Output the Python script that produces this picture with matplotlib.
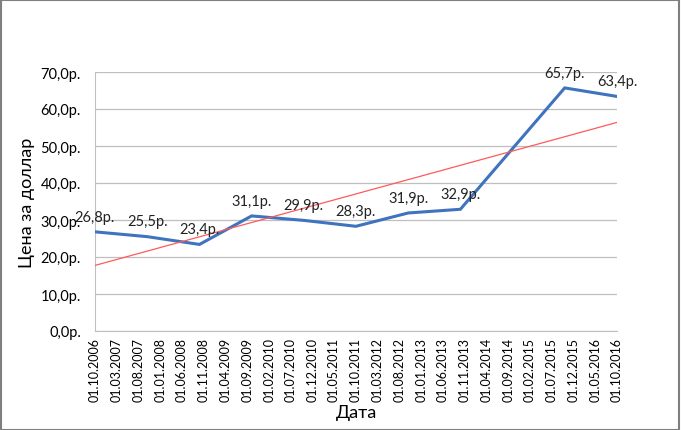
import numpy as np
import pandas as pd
import matplotlib
matplotlib.use("Agg")
import matplotlib.pyplot as plt
import matplotlib.dates as mdates
from matplotlib.ticker import FuncFormatter

# данные
dates = ["01.10.2006", "01.10.2007", "01.10.2008", "01.10.2009", "01.10.2010",
         "01.10.2011", "01.10.2012", "01.10.2013", "01.10.2015", "01.10.2016"]
rates = [26.8, 25.5, 23.4, 31.1, 29.9, 28.3, 31.9, 32.9, 65.7, 63.4]
tick_dates = pd.date_range("2006-10-01", "2016-10-01", freq="5MS")

plt.rcParams["font.family"] = ["Lato", "DejaVu Sans"]


def rub(v):
    return f"{v:.1f}".replace(".", ",") + "р."


x = pd.to_datetime(dates, format="%d.%m.%Y")
xn = mdates.date2num(x)

fig = plt.figure(figsize=(6.81, 4.31), dpi=100)
ax = fig.add_axes([95 / 681, 99 / 431, 522 / 681, 259 / 431])

ax.plot(x, rates, color="#3F73BE", lw=2.2, solid_joinstyle="miter", zorder=3)

# линейный тренд
k, b = np.polyfit(xn, rates, 1)
ax.plot(x[[0, -1]], k * xn[[0, -1]] + b, color="#FF5A5A", lw=0.9, zorder=4)

for xi, yi in zip(x, rates):
    ax.annotate(rub(yi), (xi, yi), xytext=(0, 6),
                textcoords="offset points", ha="center", va="bottom",
                fontsize=10.5, color="#222222", zorder=5)

ax.set_xlim(xn[0], xn[-1])
ax.set_ylim(0, 70)
ax.set_yticks(range(0, 71, 10))
ax.yaxis.set_major_formatter(FuncFormatter(lambda v, p: rub(v)))
ax.set_xticks(tick_dates)
ax.set_xticklabels([d.strftime("%d.%m.%Y") for d in tick_dates], rotation=90, fontsize=9)
ax.tick_params(axis="y", labelsize=10.5, length=0, pad=10)
ax.tick_params(axis="x", length=0, pad=4)

ax.grid(axis="y", color="#BFBFBF", lw=0.9)
for s in ["top", "right"]:
    ax.spines[s].set_visible(False)
ax.spines["left"].set_color("#BFBFBF")
ax.spines["bottom"].set_color("#BFBFBF")

ax.set_ylabel("Цена за доллар", fontsize=13, labelpad=4)
ax.set_xlabel("Дата", fontsize=13, labelpad=2)

fig.patches.append(plt.Rectangle((0.001, 0.001), 0.996, 0.996, transform=fig.transFigure,
                                 fill=False, edgecolor="#7F7F7F", lw=1.5))

fig.savefig("out.png", dpi=100)
